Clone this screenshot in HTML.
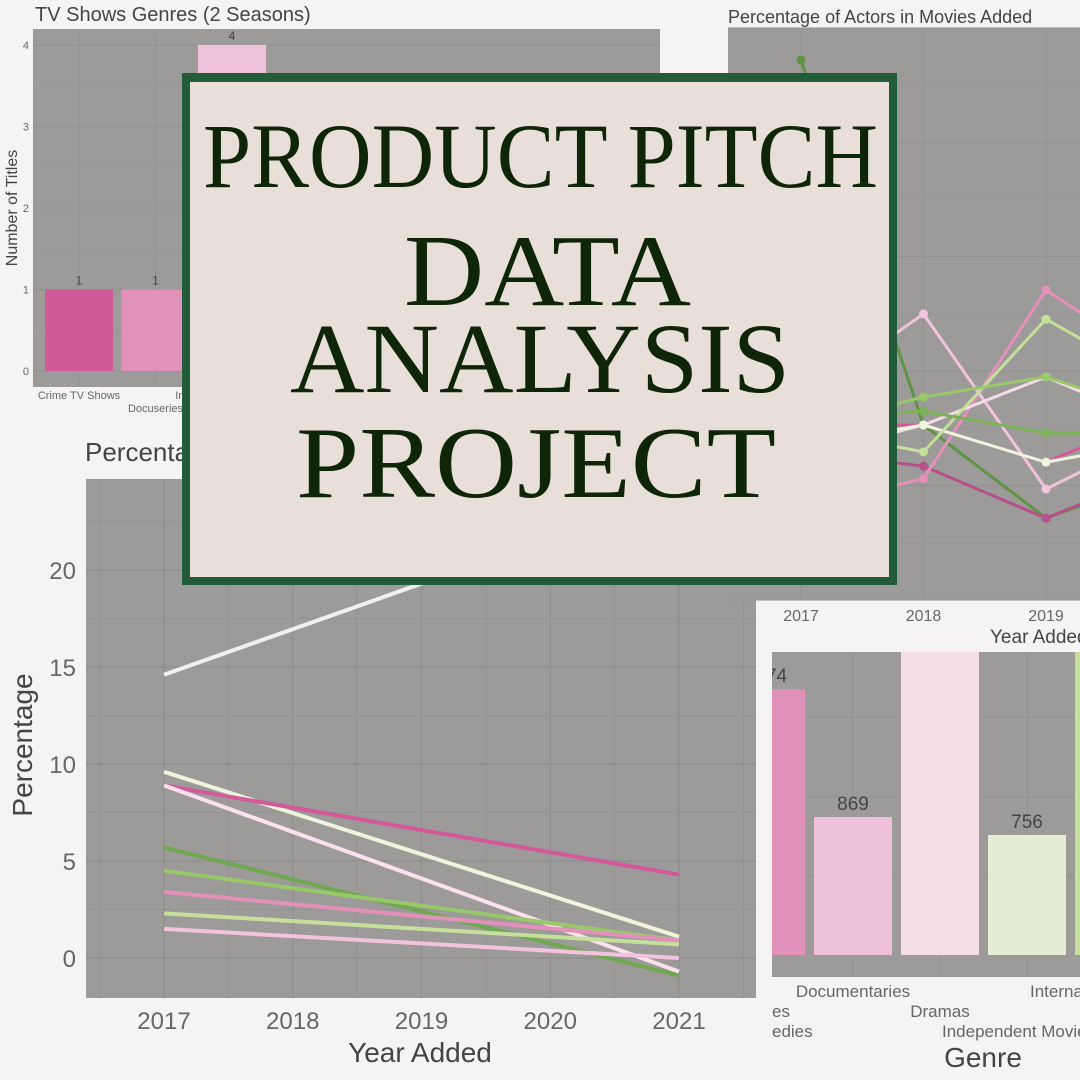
<!DOCTYPE html>
<html><head><meta charset="utf-8"><style>
html,body{margin:0;padding:0;background:#f6f4f2;}
svg{display:block;font-family:"Liberation Sans",sans-serif;}
</style></head><body>
<svg id="root" width="1080" height="1080" viewBox="0 0 1080 1080">
<rect x="0" y="0" width="1080" height="1080" fill="#f6f4f2"/>
<g id="bl"></g>
<g id="tl"></g>
<g id="tr"></g>
<g id="br"></g>
<g>
  <rect x="182" y="73" width="715" height="512" fill="#225c38"/>
  <rect x="190" y="82" width="699" height="495" fill="#e8dfd9"/>
  <g fill="#0f2508" font-family="'Liberation Serif',serif">
    <text x="203" y="187" font-size="92" textLength="675" lengthAdjust="spacingAndGlyphs">PRODUCT PITCH</text>
    <text x="404" y="305" font-size="102" textLength="287" lengthAdjust="spacingAndGlyphs">DATA</text>
    <text x="290" y="392" font-size="100" textLength="500" lengthAdjust="spacingAndGlyphs">ANALYSIS</text>
    <text x="296" y="497" font-size="102" textLength="480" lengthAdjust="spacingAndGlyphs">PROJECT</text>
  </g>
</g>
</svg>
<script>
const NS='http://www.w3.org/2000/svg';
function mk(parent,tag,attrs,text){const e=document.createElementNS(NS,tag);for(const k in attrs)e.setAttribute(k,attrs[k]);if(text!==undefined)e.textContent=text;parent.appendChild(e);return e;}

// ---------- Bottom-left line chart data ----------
const blYears=[2017,2021];
const blTicks=[0,5,10,15,20];
const blXTicks=[2017,2018,2019,2020,2021];
const blColors=['#f2f0ee','#eef5dc','#d4589a','#fbe0ee','#6fa84e','#99c86a','#e391bb','#c4e09a','#f2c3dc'];
const blStart=[14.6,9.6,8.9,8.9,5.7,4.5,3.4,2.3,1.5];
const blEnd=[24.0,1.1,4.3,-0.7,-0.9,0.9,0.9,0.7,0.0];

// ---------- Top-left bar chart data ----------
const tlCats=['Crime TV Shows','Docuseries','International TV Shows'];
const tlVals=[1,1,4];
const tlTicks=[0,1,2,3,4];
const tlColors=['#d05b9a','#e192bb','#efc1da'];

// ---------- Top-right line chart data ----------
const trYears=[2017,2018,2019,2020];
const trColors=['#5e9444','#b5508a','#d4589a','#e391bb','#f2c3dc','#f5dde8','#eef5dc','#c4e09a','#99c86a','#7cb356'];
const trS0=[9.44,3.06,1.43,2.2];
const trS1=[2.6,2.34,1.43,2.3];
const trS2=[3.06,3.06,2.41,3.3];
const trS3=[1.6,2.12,5.42,4.0];
const trS4=[3.5,5.0,1.94,3.0];
const trS5=[2.5,3.06,3.9,3.0];
const trS6=[2.7,3.06,2.41,2.8];
const trS7=[3.0,2.59,4.91,3.7];
const trS8=[3.0,3.55,3.9,3.2];
const trS9=[3.2,3.3,2.92,2.9];

// ---------- Bottom-right bar chart data ----------
const brCats=['Comedies','Documentaries','Dramas','International Movies','Independent Movies'];
const brVals=[1674,869,2400,756,2400];
const brLabels=['1674','869','','756',''];
const brColors=['#df91b9','#eec0da','#f5dde6','#e4edd3','#c5e09c'];

// ===== Bottom-left =====
(function(){
const g=document.getElementById('bl');
const X=y=>164+(y-2017)*128.75, Y=v=>958-v*19.4;
mk(g,'text',{x:85,y:461,'font-size':26,fill:'#444',},'Percentage of Actors in Movies');
const p=mk(g,'rect',{x:86,y:479,width:670,height:519,fill:'#9d9b99'});

for(let v=0;v<=22.5;v+=2.5){const l=mk(g,'line',{x1:86,x2:756,y1:Y(v),y2:Y(v),stroke:'#8f8d8b','stroke-width':v%5===0?1.2:0.6});}
for(let yr=2016.5;yr<=2021.5;yr+=0.5){const l=mk(g,'line',{x1:X(yr),x2:X(yr),y1:479,y2:998,stroke:'#8f8d8b','stroke-width':yr%1===0?1.2:0.6});}
blTicks.forEach(t=>{const e=mk(g,'text',{x:76,y:Y(t)+9,'font-size':24,fill:'#666','text-anchor':'end'},String(t));});
blXTicks.forEach(t=>{const e=mk(g,'text',{x:X(t),y:1029,'font-size':24,fill:'#666','text-anchor':'middle'},String(t));});
const cp=mk(g,'clipPath',{id:'blclip'});mk(cp,'rect',{x:86,y:479,width:670,height:519});
const lg=mk(g,'g',{'clip-path':'url(#blclip)'});
blStart.forEach((s,i)=>{const l=mk(lg,'line',{x1:X(blYears[0]),y1:Y(s),x2:X(blYears[1]),y2:Y(blEnd[i]),stroke:blColors[i],'stroke-width':4});});
const xt=mk(g,'text',{x:420,y:1062,'font-size':28,fill:'#444','text-anchor':'middle'},'Year Added');
const yt=mk(g,'text',{x:0,y:0,'font-size':28,fill:'#444','text-anchor':'middle',transform:'translate(32,745) rotate(-90)'},'Percentage');
})();

// ===== Top-left =====
(function(){
const g=document.getElementById('tl');
const Y=v=>371-v*81.5;
const t=mk(g,'text',{x:35,y:21,'font-size':20,fill:'#444'},'TV Shows Genres (2 Seasons)');
const p=mk(g,'rect',{x:33,y:29,width:627,height:358,fill:'#9d9b99'});
for(let v=0;v<=4;v+=0.5){const l=mk(g,'line',{x1:33,x2:660,y1:Y(v),y2:Y(v),stroke:'#929090','stroke-width':v%1===0?1:0.5});}
tlCats.forEach((c,i)=>{const cx=79+i*76.5;
 const gl=mk(g,'line',{x1:cx,x2:cx,y1:29,y2:387,stroke:'#929090','stroke-width':1});
 const b=mk(g,'rect',{x:cx-34,y:Y(tlVals[i]),width:68,height:Y(0)-Y(tlVals[i]),fill:tlColors[i]});
 const lb=mk(g,'text',{x:cx,y:Y(tlVals[i])-5,'font-size':12,fill:'#444','text-anchor':'middle'},String(tlVals[i]));
 const xl=mk(g,'text',{x:cx,y:i%2?412:399,'font-size':11,fill:'#666','text-anchor':'middle'},c);
});
tlTicks.forEach(v=>{const e=mk(g,'text',{x:29,y:Y(v)+4,'font-size':11,fill:'#666','text-anchor':'end'},String(v));});
const yt=mk(g,'text',{x:0,y:0,'font-size':16,fill:'#444','text-anchor':'middle',transform:'translate(17,208) rotate(-90)'},'Number of Titles');
})();

// ===== Top-right =====
(function(){
const g=document.getElementById('tr');
const X=y=>801+(y-2017)*122.5, Y=v=>28+(10-v)*57.2;
const t=mk(g,'text',{x:728,y:23,'font-size':18,fill:'#444'},'Percentage of Actors in Movies Added');
const p=mk(g,'rect',{x:728,y:28,width:352,height:572,fill:'#9d9b99'});
for(let v=0;v<=10;v+=1){const l=mk(g,'line',{x1:728,x2:1080,y1:Y(v),y2:Y(v),stroke:'#929090','stroke-width':v%2===0?1:0.5});}
trYears.forEach(yr=>{const l=mk(g,'line',{x1:X(yr),x2:X(yr),y1:28,y2:600,stroke:'#929090','stroke-width':1});
 const e=mk(g,'text',{x:X(yr),y:621,'font-size':16,fill:'#666','text-anchor':'middle'},String(yr));});
const xt=mk(g,'text',{x:990,y:643,'font-size':19,fill:'#444'},'Year Added');
const cp=mk(g,'clipPath',{id:'trclip'});mk(cp,'rect',{x:728,y:28,width:352,height:572});
const lg=mk(g,'g',{'clip-path':'url(#trclip)'});
const series=[trS0,trS1,trS2,trS3,trS4,trS5,trS6,trS7,trS8,trS9];
series.forEach((s,i)=>{
 const pl=mk(lg,'polyline',{points:s.map((v,j)=>X(trYears[j])+','+Y(v)).join(' '),fill:'none',stroke:trColors[i],'stroke-width':3});
 
 s.forEach((v,j)=>{const c=mk(lg,'circle',{cx:X(trYears[j]),cy:Y(v),r:4.5,fill:trColors[i]});});
});
})();

// ===== Bottom-right =====
(function(){
const g=document.getElementById('br');
const Y=v=>955-v*0.1588;
const p=mk(g,'rect',{x:772,y:652,width:308,height:325,fill:'#9d9b99'});
const cp=mk(g,'clipPath',{id:'brclip'});mk(cp,'rect',{x:772,y:652,width:308,height:325});
const cg=mk(g,'g',{'clip-path':'url(#brclip)'});
[717,797,876].forEach(y=>{const l=mk(cg,'line',{x1:772,x2:1080,y1:y,y2:y,stroke:'#929090','stroke-width':1});});
brCats.forEach((c,i)=>{const cx=766+i*87;
 const gl=mk(cg,'line',{x1:cx,x2:cx,y1:652,y2:977,stroke:'#929090','stroke-width':1});
 const b=mk(cg,'rect',{x:cx-39,y:Y(brVals[i]),width:78,height:955-Y(brVals[i]),fill:brColors[i]});
 if(brLabels[i]){const lb=mk(cg,'text',{x:cx,y:Y(brVals[i])-7,'font-size':19,fill:'#444','text-anchor':'middle'},brLabels[i]);}
});
const labs=[['Documentaries',853,997,'middle'],['Dramas',940,1017,'middle'],['Independent Movies',942,1037,'start'],['International Movies',1030,997,'start'],['es',772,1017,'start'],['edies',772,1037,'start']];
labs.forEach(a=>{const e=mk(g,'text',{x:a[1],y:a[2],'font-size':17,fill:'#666','text-anchor':a[3]},a[0]);});
const xt=mk(g,'text',{x:983,y:1067,'font-size':28,fill:'#444','text-anchor':'middle'},'Genre');
})();
</script>
</body></html>
